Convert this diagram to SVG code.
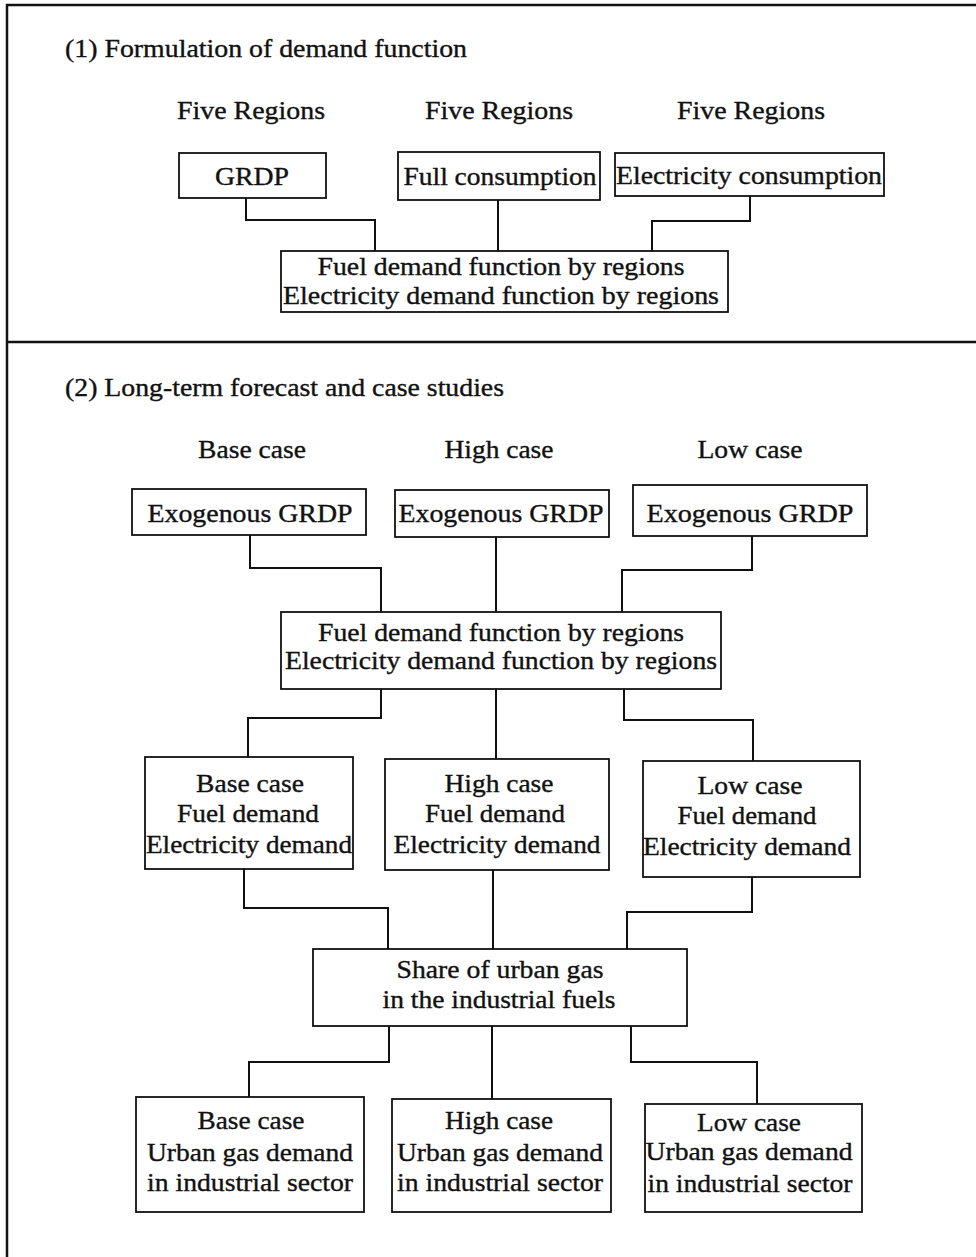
<svg xmlns="http://www.w3.org/2000/svg" width="976" height="1257" viewBox="0 0 976 1257">
<style>
text{font-family:"Liberation Serif","Times New Roman",serif;font-size:25px;fill:#111;stroke:#111;stroke-width:0.35;text-anchor:middle}
.t{text-anchor:start}
.box{fill:#fff;stroke:#111;stroke-width:1.8}
.con{fill:none;stroke:#111;stroke-width:2}
.frame{fill:none;stroke:#111;stroke-width:2.5}
</style>
<rect width="976" height="1257" fill="#fff"/>
<g id="frame">
<path class="frame" d="M7,1257 V5 H976"/>
<path class="frame" d="M7,342 H976"/>
</g>
<g id="connectors">
<path class="con" d="M246,198 V220 H375 V251"/>
<path class="con" d="M498,200 V251"/>
<path class="con" d="M750,196 V221 H652 V251"/>
<path class="con" d="M250,535 V568 H381 V612"/>
<path class="con" d="M496,537 V612"/>
<path class="con" d="M752,536 V570 H622 V612"/>
<path class="con" d="M381,689 V718 H248 V757"/>
<path class="con" d="M496,689 V759"/>
<path class="con" d="M624,689 V720 H753 V761"/>
<path class="con" d="M244,869 V908 H388 V949"/>
<path class="con" d="M493,870 V949"/>
<path class="con" d="M752,877 V912 H627 V949"/>
<path class="con" d="M389,1026 V1062 H249 V1097"/>
<path class="con" d="M492,1026 V1099"/>
<path class="con" d="M631,1026 V1062 H757 V1104"/>
</g>
<g id="section1-labels">
<text class="t" x="65" y="57" textLength="402" lengthAdjust="spacingAndGlyphs">(1) Formulation of demand function</text>
<text x="251" y="119" textLength="148" lengthAdjust="spacingAndGlyphs">Five Regions</text>
<text x="499" y="119" textLength="148" lengthAdjust="spacingAndGlyphs">Five Regions</text>
<text x="751" y="119" textLength="148" lengthAdjust="spacingAndGlyphs">Five Regions</text>
</g>
<g id="n-grdp">
<rect class="box" x="179" y="153" width="147" height="45"/>
<text x="252" y="185" textLength="74" lengthAdjust="spacingAndGlyphs">GRDP</text>
</g>
<g id="n-full">
<rect class="box" x="398" y="152" width="202" height="48"/>
<text x="500" y="185" textLength="193" lengthAdjust="spacingAndGlyphs">Full consumption</text>
</g>
<g id="n-elec">
<rect class="box" x="615" y="153" width="269" height="43"/>
<text x="749" y="184" textLength="266" lengthAdjust="spacingAndGlyphs">Electricity consumption</text>
</g>
<g id="n-func1">
<rect class="box" x="281" y="251" width="447" height="61"/>
<text x="501" y="275" textLength="367" lengthAdjust="spacingAndGlyphs">Fuel demand function by regions</text>
<text x="501" y="304" textLength="436" lengthAdjust="spacingAndGlyphs">Electricity demand function by regions</text>
</g>
<g id="section2-labels">
<text class="t" x="65" y="396" textLength="439" lengthAdjust="spacingAndGlyphs">(2) Long-term forecast and case studies</text>
<text x="252" y="458" textLength="108" lengthAdjust="spacingAndGlyphs">Base case</text>
<text x="499" y="458" textLength="109" lengthAdjust="spacingAndGlyphs">High case</text>
<text x="750" y="458" textLength="105" lengthAdjust="spacingAndGlyphs">Low case</text>
</g>
<g id="n-exo-base">
<rect class="box" x="132" y="489" width="234" height="46"/>
<text x="250" y="522" textLength="205" lengthAdjust="spacingAndGlyphs">Exogenous GRDP</text>
</g>
<g id="n-exo-high">
<rect class="box" x="395" y="490" width="214" height="47"/>
<text x="501" y="522" textLength="205" lengthAdjust="spacingAndGlyphs">Exogenous GRDP</text>
</g>
<g id="n-exo-low">
<rect class="box" x="633" y="485" width="234" height="51"/>
<text x="750" y="522" textLength="207" lengthAdjust="spacingAndGlyphs">Exogenous GRDP</text>
</g>
<g id="n-func2">
<rect class="box" x="281" y="612" width="440" height="77"/>
<text x="501" y="641" textLength="366" lengthAdjust="spacingAndGlyphs">Fuel demand function by regions</text>
<text x="501" y="669" textLength="432" lengthAdjust="spacingAndGlyphs">Electricity demand function by regions</text>
</g>
<g id="n-dem-base">
<rect class="box" x="145" y="757" width="208" height="112"/>
<text x="250" y="792" textLength="108" lengthAdjust="spacingAndGlyphs">Base case</text>
<text x="248" y="822" textLength="142" lengthAdjust="spacingAndGlyphs">Fuel demand</text>
<text x="249" y="853" textLength="206" lengthAdjust="spacingAndGlyphs">Electricity demand</text>
</g>
<g id="n-dem-high">
<rect class="box" x="385" y="759" width="224" height="111"/>
<text x="499" y="792" textLength="109" lengthAdjust="spacingAndGlyphs">High case</text>
<text x="495" y="822" textLength="140" lengthAdjust="spacingAndGlyphs">Fuel demand</text>
<text x="497" y="853" textLength="207" lengthAdjust="spacingAndGlyphs">Electricity demand</text>
</g>
<g id="n-dem-low">
<rect class="box" x="643" y="761" width="217" height="116"/>
<text x="750" y="794" textLength="105" lengthAdjust="spacingAndGlyphs">Low case</text>
<text x="747" y="824" textLength="139" lengthAdjust="spacingAndGlyphs">Fuel demand</text>
<text x="747" y="855" textLength="208" lengthAdjust="spacingAndGlyphs">Electricity demand</text>
</g>
<g id="n-share">
<rect class="box" x="313" y="949" width="374" height="77"/>
<text x="500" y="978" textLength="207" lengthAdjust="spacingAndGlyphs">Share of urban gas</text>
<text x="499" y="1008" textLength="233" lengthAdjust="spacingAndGlyphs">in the industrial fuels</text>
</g>
<g id="n-gas-base">
<rect class="box" x="136" y="1097" width="228" height="115"/>
<text x="251" y="1129" textLength="107" lengthAdjust="spacingAndGlyphs">Base case</text>
<text x="250" y="1161" textLength="206" lengthAdjust="spacingAndGlyphs">Urban gas demand</text>
<text x="250" y="1191" textLength="206" lengthAdjust="spacingAndGlyphs">in industrial sector</text>
</g>
<g id="n-gas-high">
<rect class="box" x="392" y="1099" width="219" height="113"/>
<text x="499" y="1129" textLength="108" lengthAdjust="spacingAndGlyphs">High case</text>
<text x="500" y="1161" textLength="206" lengthAdjust="spacingAndGlyphs">Urban gas demand</text>
<text x="500" y="1191" textLength="206" lengthAdjust="spacingAndGlyphs">in industrial sector</text>
</g>
<g id="n-gas-low">
<rect class="box" x="645" y="1104" width="217" height="108"/>
<text x="749" y="1131" textLength="104" lengthAdjust="spacingAndGlyphs">Low case</text>
<text x="749" y="1160" textLength="207" lengthAdjust="spacingAndGlyphs">Urban gas demand</text>
<text x="750" y="1192" textLength="205" lengthAdjust="spacingAndGlyphs">in industrial sector</text>
</g>
</svg>
